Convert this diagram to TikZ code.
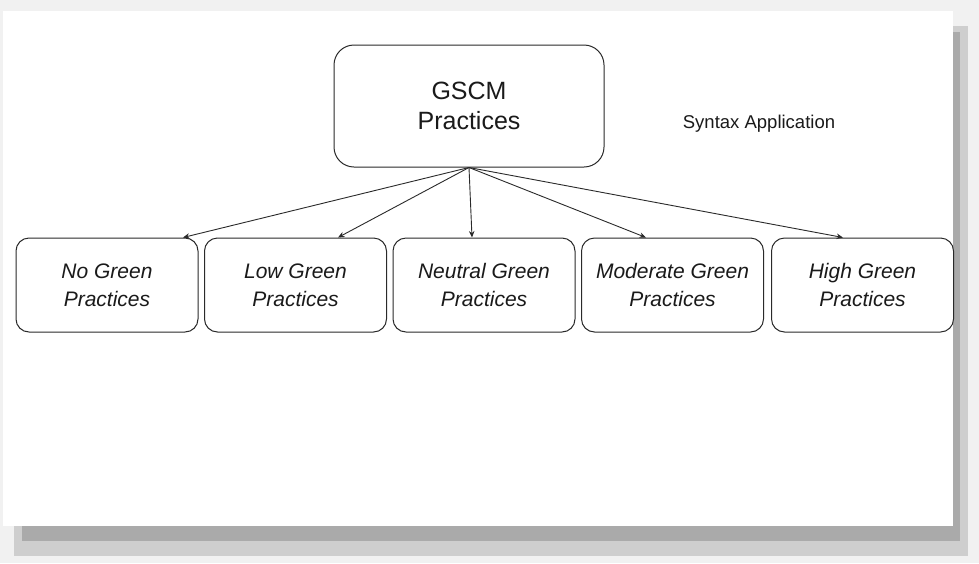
\documentclass[tikz,border=0pt]{standalone}
\usepackage{fontspec}
\setmainfont{Liberation Sans}
\usetikzlibrary{arrows.meta}
\definecolor{ink}{HTML}{1A1A1A}
\definecolor{edge}{HTML}{2A2A2A}
\definecolor{shadowdark}{HTML}{AAAAAA}
\definecolor{shadowlight}{HTML}{CECECE}
\definecolor{backdrop}{HTML}{F1F1F1}
\tikzset{
  headbox/.style={draw=edge, line width=1pt, rounded corners=20pt, fill=white,
    minimum width=270pt, minimum height=122pt, inner sep=0pt, align=center,
    text=ink, font=\fontsize{25}{30}\selectfont},
  levelbox/.style={draw=edge, line width=1pt, rounded corners=13pt, fill=white,
    minimum width=182pt, minimum height=94pt, inner sep=0pt, align=center,
    text=ink, font=\fontsize{21}{28}\selectfont\itshape},
  link/.style={draw=edge, line width=0.9pt, -{Stealth[length=6.5pt,width=5.5pt]}},
  note/.style={text=ink, font=\fontsize{18.5}{22}\selectfont, inner sep=0pt}
}
\begin{document}
\begin{tikzpicture}[x=1pt,y=-1pt]
  % canvas and page with its drop shadow
  \fill[backdrop] (0,0) rectangle (979,563);
  \useasboundingbox (0,0) rectangle (979,563);
  \fill[shadowlight] (14,26) rectangle (968,556);
  \fill[shadowdark] (22,32) rectangle (960,541);
  \fill[white] (3,11) rectangle (953,526);

  % root node
  \node[headbox] (root) at (469,106) {GSCM\\Practices};
  \node[note] (syntax) at (759,124) {Syntax Application};

  % practice levels
  \node[levelbox] (none) at (107,285) {No Green\\Practices};
  \node[levelbox] (low) at (295.5,285) {Low Green\\Practices};
  \node[levelbox] (neutral) at (484,285) {Neutral Green\\Practices};
  \node[levelbox] (moderate) at (672.5,285) {Moderate Green\\Practices};
  \node[levelbox] (high) at (862.5,285) {High Green\\Practices};

  % connectors from the root to each level
  \draw[link] (root.south) -- ([xshift=76pt]none.north);
  \draw[link] (root.south) -- ([xshift=42.5pt]low.north);
  \draw[link] (root.south) -- ([xshift=-12pt]neutral.north);
  \draw[link] (root.south) -- ([xshift=-26.5pt]moderate.north);
  \draw[link] (root.south) -- ([xshift=-19.5pt]high.north);
\end{tikzpicture}
\end{document}
